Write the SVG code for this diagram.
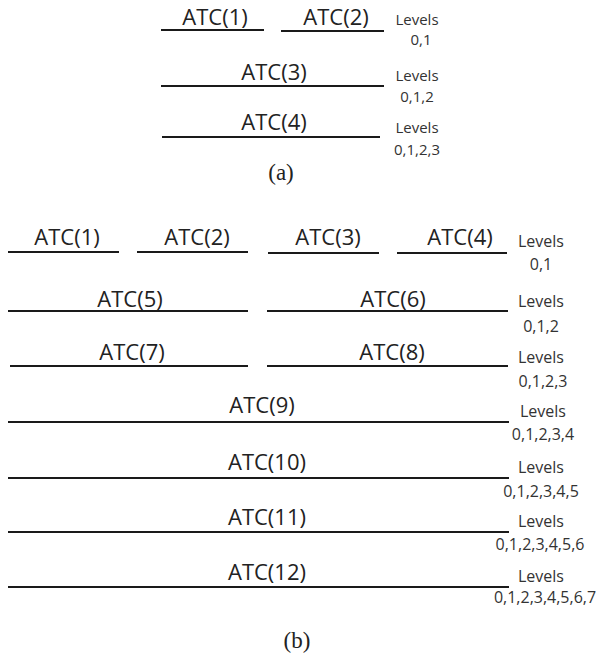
<svg xmlns="http://www.w3.org/2000/svg" width="599" height="662" viewBox="0 0 599 662">
<style>
.bar{stroke:#1a1a1a;stroke-width:2.2;fill:none}
.atc{font-family:"Open Sans","Noto Sans",sans-serif;font-size:22px;fill:#222;text-anchor:middle}
.lv{font-family:"Open Sans","Noto Sans",sans-serif;font-size:16px;fill:#333;text-anchor:middle}
.lva{font-family:"Open Sans","Noto Sans",sans-serif;font-size:15px;fill:#333;text-anchor:middle}
.cap{font-family:"Liberation Serif","Times New Roman",serif;font-size:23px;fill:#222;text-anchor:middle}
</style>
<rect width="599" height="662" fill="#fff"/>
<g id="part-a">
  <g id="a-atc1"><line class="bar" x1="161" y1="30" x2="264" y2="30"/><text class="atc" x="215" y="25">ATC(1)</text></g>
  <g id="a-atc2"><line class="bar" x1="281" y1="31" x2="384" y2="31"/><text class="atc" x="336" y="25">ATC(2)</text></g>
  <g id="a-lv1"><text class="lva" x="417" y="25">Levels</text><text class="lva" x="421" y="45">0,1</text></g>
  <g id="a-atc3"><line class="bar" x1="161" y1="86" x2="384" y2="86"/><text class="atc" x="274" y="80">ATC(3)</text></g>
  <g id="a-lv2"><text class="lva" x="417" y="81">Levels</text><text class="lva" x="417" y="102">0,1,2</text></g>
  <g id="a-atc4"><line class="bar" x1="162" y1="137" x2="380" y2="137"/><text class="atc" x="274" y="130">ATC(4)</text></g>
  <g id="a-lv3"><text class="lva" x="417" y="133">Levels</text><text class="lva" x="417" y="155">0,1,2,3</text></g>
  <text id="a-cap" class="cap" x="281" y="180">(a)</text>
</g>
<g id="part-b">
  <g id="b-atc1"><line class="bar" x1="8" y1="252" x2="119" y2="252"/><text class="atc" x="67" y="245">ATC(1)</text></g>
  <g id="b-atc2"><line class="bar" x1="137" y1="252" x2="248" y2="252"/><text class="atc" x="197" y="245">ATC(2)</text></g>
  <g id="b-atc3"><line class="bar" x1="268" y1="253" x2="379" y2="253"/><text class="atc" x="328" y="245">ATC(3)</text></g>
  <g id="b-atc4"><line class="bar" x1="397" y1="253" x2="507" y2="253"/><text class="atc" x="460" y="245">ATC(4)</text></g>
  <g id="b-lv1"><text class="lv" x="541" y="247">Levels</text><text class="lv" x="541" y="270">0,1</text></g>
  <g id="b-atc5"><line class="bar" x1="8" y1="311" x2="248" y2="311"/><text class="atc" x="130" y="307">ATC(5)</text></g>
  <g id="b-atc6"><line class="bar" x1="267" y1="311" x2="508" y2="311"/><text class="atc" x="393" y="307">ATC(6)</text></g>
  <g id="b-lv2"><text class="lv" x="541" y="307">Levels</text><text class="lv" x="541" y="332">0,1,2</text></g>
  <g id="b-atc7"><line class="bar" x1="10" y1="366" x2="248" y2="366"/><text class="atc" x="132" y="360">ATC(7)</text></g>
  <g id="b-atc8"><line class="bar" x1="267" y1="366" x2="508" y2="366"/><text class="atc" x="392" y="360">ATC(8)</text></g>
  <g id="b-lv3"><text class="lv" x="541" y="363">Levels</text><text class="lv" x="543" y="387">0,1,2,3</text></g>
  <g id="b-atc9"><line class="bar" x1="8" y1="422" x2="509" y2="422"/><text class="atc" x="262" y="413">ATC(9)</text></g>
  <g id="b-lv4"><text class="lv" x="543" y="417">Levels</text><text class="lv" x="543" y="440">0,1,2,3,4</text></g>
  <g id="b-atc10"><line class="bar" x1="8" y1="478" x2="509" y2="478"/><text class="atc" x="267" y="470">ATC(10)</text></g>
  <g id="b-lv5"><text class="lv" x="541" y="473">Levels</text><text class="lv" x="541" y="497">0,1,2,3,4,5</text></g>
  <g id="b-atc11"><line class="bar" x1="8" y1="532" x2="509" y2="532"/><text class="atc" x="267" y="525">ATC(11)</text></g>
  <g id="b-lv6"><text class="lv" x="541" y="527">Levels</text><text class="lv" x="540" y="550">0,1,2,3,4,5,6</text></g>
  <g id="b-atc12"><line class="bar" x1="8" y1="587" x2="509" y2="587"/><text class="atc" x="267" y="580">ATC(12)</text></g>
  <g id="b-lv7"><text class="lv" x="541" y="582">Levels</text><text class="lv" x="545" y="603">0,1,2,3,4,5,6,7</text></g>
  <text id="b-cap" class="cap" x="297" y="648">(b)</text>
</g>
<g id="connectors"/>
</svg>
